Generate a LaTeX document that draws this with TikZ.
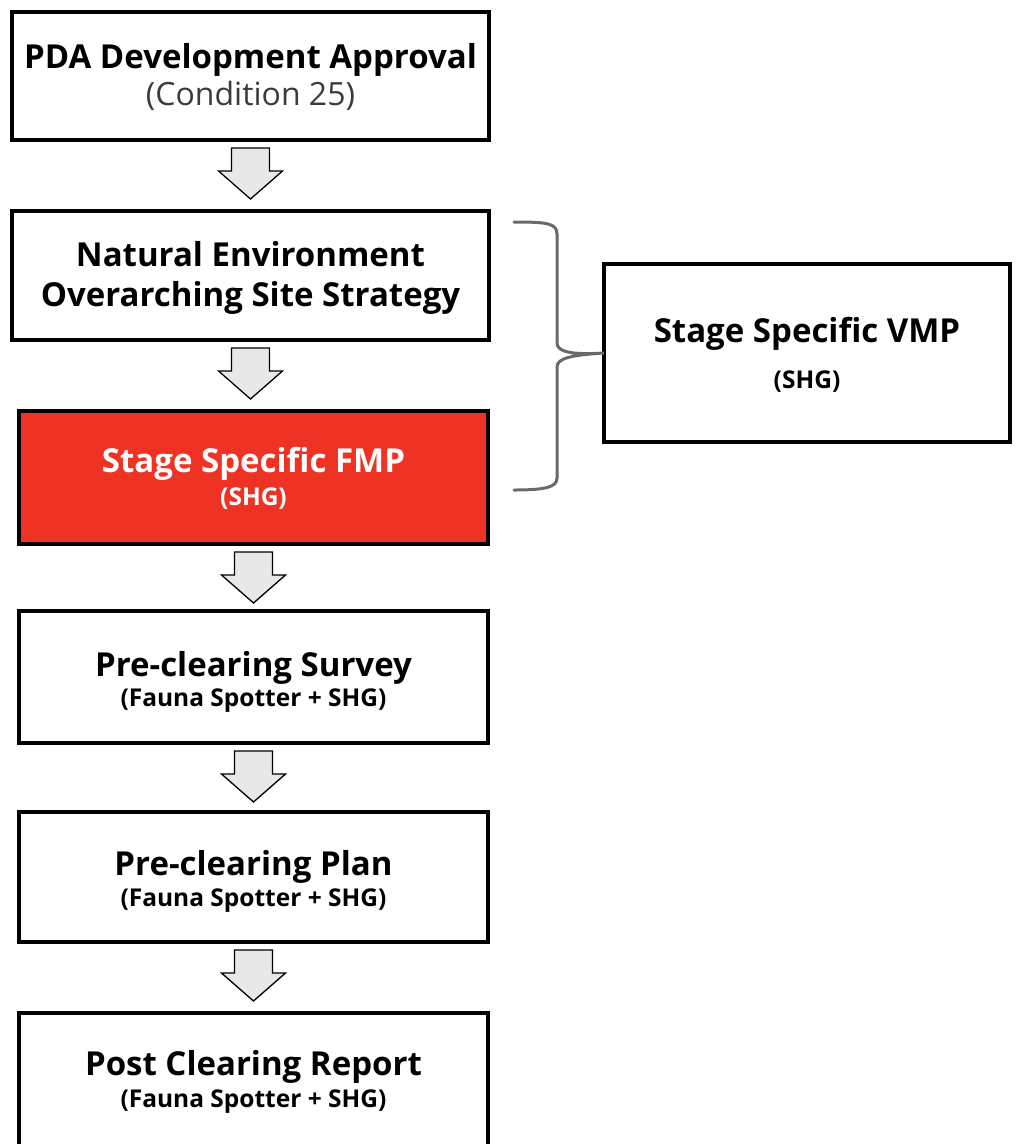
\documentclass[tikz,border=0pt]{standalone}
\usepackage{fontspec}
\setmainfont{Open Sans}
\usetikzlibrary{calc}
\definecolor{fmpred}{RGB}{238,50,36}
\definecolor{arrowgray}{RGB}{232,232,232}
\definecolor{bracegray}{RGB}{105,105,105}
\definecolor{condgray}{RGB}{60,60,60}
\tikzset{
  box/.style={draw=black, line width=4pt, fill=white, inner sep=0pt, outer sep=0pt},
  redbox/.style={box, fill=fmpred},
  maintxt/.style={anchor=base, inner sep=0pt, font=\fontsize{33}{37}\selectfont\bfseries},
  subtxt/.style={anchor=base, inner sep=0pt, font=\fontsize{24.5}{28}\selectfont\bfseries},
  condtxt/.style={anchor=base, inner sep=0pt, text=condgray, font=\fontsize{32}{36}\selectfont},
  blockarrow/.style={draw=black, line width=1.3pt, fill=arrowgray, line join=miter},
  bracestyle/.style={draw=bracegray, line width=3pt, line cap=round}
}
\newcommand{\flowarrow}[2]{%
  \coordinate (#2) at ($(#1.south)+(0,8)$);
  \path[blockarrow] (#2) ++(-19,0) -- ++(38,0) -- ++(0,23) -- ++(13,0) -- ++(-32,28) -- ++(-32,-28) -- ++(13,0) -- cycle;
}
\begin{document}
\begin{tikzpicture}[x=1pt,y=-1pt]
\useasboundingbox (0,0) rectangle (1021,1144);
% boxes
\node[box, minimum width=477pt, minimum height=128pt] (b1) at (250.5,76) {};
\node[box, minimum width=477pt, minimum height=129pt] (b2) at (250.5,275.5) {};
\node[redbox, minimum width=469pt, minimum height=133pt] (b3) at (253.5,477.5) {};
\node[box, minimum width=469pt, minimum height=132pt] (b4) at (253.5,677) {};
\node[box, minimum width=469pt, minimum height=130pt] (b5) at (253.5,877) {};
\node[box, minimum width=469pt, minimum height=165pt] (b6) at (253.5,1095.5) {};
\node[box, minimum width=406pt, minimum height=178pt] (vmp) at (807,353) {};
% texts
\node[maintxt] (t1a) at (250.5,68) {PDA Development Approval};
\node[condtxt] (t1b) at (250.5,105) {(Condition 25)};
\node[maintxt] (t2a) at (250.5,266) {Natural Environment};
\node[maintxt] (t2b) at (250.5,306) {Overarching Site Strategy};
\node[maintxt, text=white] (t3a) at (253.5,472) {Stage Specific FMP};
\node[subtxt, text=white] (t3b) at (253.5,505) {(SHG)};
\node[maintxt] (t4a) at (253.5,676) {Pre-clearing Survey};
\node[subtxt] (t4b) at (253.5,706) {(Fauna Spotter + SHG)};
\node[maintxt] (t5a) at (253.5,875) {Pre-clearing Plan};
\node[subtxt] (t5b) at (253.5,906) {(Fauna Spotter + SHG)};
\node[maintxt] (t6a) at (253.5,1075) {Post Clearing Report};
\node[subtxt] (t6b) at (253.5,1107) {(Fauna Spotter + SHG)};
\node[maintxt] (t7a) at (807,342) {Stage Specific VMP};
\node[subtxt] (t7b) at (807,388) {(SHG)};
% arrows
\flowarrow{b1}{a1}
\flowarrow{b2}{a2}
\flowarrow{b3}{a3}
\flowarrow{b4}{a4}
\flowarrow{b5}{a5}
% brace
\coordinate (brtop) at (514,222);
\coordinate (brbot) at (514,490);
\draw[bracestyle] (brtop) .. controls (546,222) and (557,223) .. (557,234)
  -- (557,343) .. controls (557,352) and (572,355) .. (vmp.west)
  .. controls (572,355) and (557,358) .. (557,367)
  -- (557,478) .. controls (557,487) and (546,490) .. (brbot);
\end{tikzpicture}
\end{document}
